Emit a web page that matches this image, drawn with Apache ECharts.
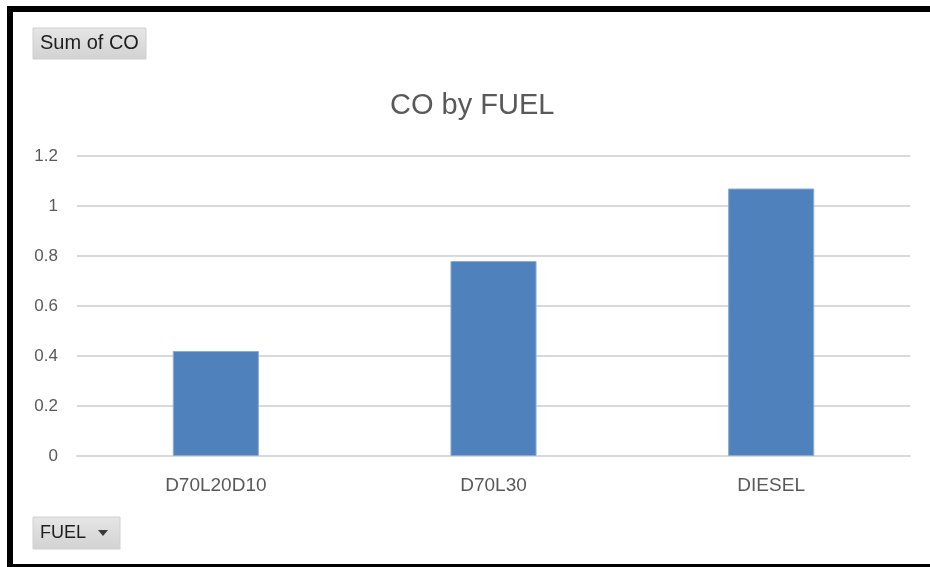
<!DOCTYPE html>
<html>
<head>
<meta charset="utf-8">
<script src="https://cdn.jsdelivr.net/npm/echarts@6/dist/echarts.min.js"></script>
<style>
  html, body { margin: 0; padding: 0; background: #ffffff; }
  #chart { width: 930px; height: 567px; }
</style>
</head>
<body>
<div id="chart"></div>
<script>
// CO totals per fuel blend
const fuels = ['D70L20D10', 'D70L30', 'DIESEL'];
const coValues = [0.42, 0.78, 1.07];
const yTicks = { min: 0, max: 1.2, interval: 0.2 };

const FONT = '"Liberation Sans", Arial, sans-serif';
const TEXT_GREY = '#595959';

// grey pivot-style field button
function fieldButton(x, y, w, h, label, fontSize, withArrow) {
  const children = [
    {
      type: 'rect',
      shape: { x: 0, y: 0, width: w, height: h },
      style: {
        fill: new echarts.graphic.LinearGradient(0, 0, 0, 1, [
          { offset: 0, color: '#e6e6e6' },
          { offset: 1, color: '#d2d2d2' }
        ]),
        stroke: '#d0d0d0',
        lineWidth: 1
      }
    },
    {
      type: 'text',
      x: 7, y: h / 2,
      style: {
        text: label,
        fill: '#1e1e1e',
        font: fontSize + 'px ' + FONT,
        verticalAlign: 'middle'
      }
    }
  ];
  if (withArrow) {
    children.push({
      type: 'polygon',
      shape: { points: [[w - 22, h / 2 - 3], [w - 12, h / 2 - 3], [w - 17, h / 2 + 3]] },
      style: { fill: '#3a3a3a' }
    });
  }
  return { type: 'group', x: x, y: y, children: children };
}

const chart = echarts.init(document.getElementById('chart'));
chart.setOption({
  backgroundColor: '#ffffff',
  animation: false,
  title: {
    text: 'CO by FUEL',
    left: 385,
    top: 86,
    textStyle: { fontFamily: FONT, fontSize: 29, fontWeight: 'normal', color: TEXT_GREY }
  },
  grid: { left: 77, right: 20, top: 156, bottom: 111, containLabel: false },
  xAxis: {
    type: 'category',
    data: fuels,
    axisLine: { show: true, lineStyle: { color: '#d9d9d9', width: 2 } },
    axisTick: { show: false },
    axisLabel: { margin: 20, fontFamily: FONT, fontSize: 19, color: TEXT_GREY }
  },
  yAxis: {
    type: 'value',
    min: yTicks.min,
    max: yTicks.max,
    interval: yTicks.interval,
    axisLine: { show: false },
    axisTick: { show: false },
    splitLine: { lineStyle: { color: '#d9d9d9', width: 2 } },
    axisLabel: {
      margin: 19,
      fontFamily: FONT,
      fontSize: 17,
      color: TEXT_GREY,
      formatter: function (v) { return String(Math.round(v * 10) / 10); }
    }
  },
  series: [{
    type: 'bar',
    name: 'Sum of CO',
    data: coValues,
    barWidth: '31%',
    itemStyle: { color: '#4f81bd', borderColor: '#8cabd3', borderWidth: 1 }
  }],
  graphic: [
    // frame around the chart area
    { type: 'rect', shape: { x: 7, y: 6, width: 6, height: 561 }, style: { fill: '#000000' } },
    { type: 'rect', shape: { x: 7, y: 6, width: 923, height: 6 }, style: { fill: '#000000' } },
    { type: 'rect', shape: { x: 7, y: 564, width: 923, height: 3 }, style: { fill: '#000000' } },
    fieldButton(33, 28, 113, 31, 'Sum of CO', 20, false),
    fieldButton(33, 517, 87, 32, 'FUEL', 18, true)
  ]
});
</script>
</body>
</html>
